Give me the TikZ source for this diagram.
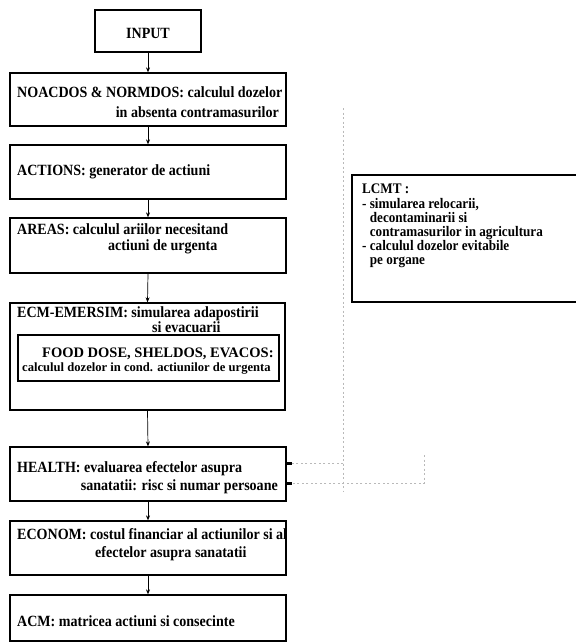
\documentclass[tikz,border=0pt]{standalone}
\usepackage{fontspec}
\setmainfont{Liberation Serif}
\newfontfamily\tallserif[FakeStretch=0.9]{Liberation Serif}
\usetikzlibrary{arrows.meta,calc}
\newcommand\modfont{\tallserif\fontsize{15.6}{17}\selectfont\bfseries}
\newcommand\lcmtfont{\tallserif\fontsize{14.6}{14.2}\selectfont\bfseries}
\newcommand\smallmodfont{\fontsize{12.6}{14}\selectfont\bfseries}
\tikzset{
  box/.style={draw, line width=1.3pt, inner sep=0pt},
  txt/.style={inner sep=0pt, font=\modfont},
  flow/.style={line width=0.7pt, -{Stealth[length=5pt,width=4pt]}},
  guide/.style={gray!55, line width=0.6pt, dash pattern=on 2pt off 2.5pt},
  feed/.style={gray!55, line width=0.6pt, dash pattern=on 2pt off 2.5pt,
    -{Rectangle[length=5pt,width=2.5pt,black]}},
}
\begin{document}
\begin{tikzpicture}[x=1pt,y=-1pt]
\clip (0,0) rectangle (576,643);
\fill[white] (0,0) rectangle (576,643);

% main chain of modules
\node[box, minimum width=106pt, minimum height=42pt] (input) at (148,31) {};
\node[txt, anchor=base] (inputt) at (148,38) {INPUT};

\node[box, minimum width=276pt, minimum height=53pt] (noac) at (148,99.5) {};
\node[txt, anchor=base west] (noac1) at (17,97) {NOACDOS \& NORMDOS: calculul dozelor};
\node[txt, anchor=base east] (noac2) at (279,117) {in absenta contramasurilor};

\node[box, minimum width=276pt, minimum height=54pt] (act) at (148,172) {};
\node[txt, anchor=base west] (act1) at (17,175) {ACTIONS: generator de actiuni};

\node[box, minimum width=276pt, minimum height=55pt] (areas) at (148,245.5) {};
\node[txt, anchor=base west] (areas1) at (17,234) {AREAS: calculul ariilor necesitand};
\node[txt, anchor=base west] (areas2) at (108,250) {actiuni de urgenta};

\node[box, minimum width=275pt, minimum height=107pt] (ecm) at (147.5,356.5) {};
\node[txt, anchor=base west] (ecm1) at (17,317) {ECM-EMERSIM: simularea adapostirii};
\node[txt, anchor=base west] (ecm2) at (152,332) {si evacuarii};
\node[box, minimum width=261pt, minimum height=46pt] (food) at (148.5,358) {};
\node[txt, font=\fontsize{14.5}{16}\selectfont\bfseries, anchor=base west] (food1) at (42,357) {FOOD DOSE, SHELDOS, EVACOS:};
\node[txt, font=\smallmodfont, anchor=base west] (food2) at (22,371) {calculul dozelor in cond. actiunilor de urgenta};

\node[box, minimum width=276pt, minimum height=54pt] (health) at (148,474) {};
\node[txt, anchor=base west] (health1) at (17,472) {HEALTH: evaluarea efectelor asupra};
\node[txt, anchor=base east] (health2) at (278,490) {sanatatii: risc si numar persoane};

\node[box, minimum width=276pt, minimum height=54pt] (econ) at (148,548) {};
\node[txt, anchor=base west] (econ1) at (17,539) {ECONOM: costul financiar al actiunilor si al};
\node[txt, anchor=base west] (econ2) at (95,557) {efectelor asupra sanatatii};

\node[box, minimum width=276pt, minimum height=46pt] (acm) at (148,618) {};
\node[txt, anchor=base west] (acm1) at (17,626) {ACM: matricea actiuni si consecinte};

% long-term countermeasures module
\node[box, minimum width=250pt, minimum height=127pt] (lcmt) at (477,238.5) {};
\node[txt, font=\lcmtfont, anchor=north west, align=left] (lcmtt) at (362,184)
  {LCMT :\\
   - simularea relocarii,\\
   \hphantom{-} decontaminarii si\\
   \hphantom{-} contramasurilor in agricultura\\
   - calculul dozelor evitabile\\
   \hphantom{-} pe organe};

% data flow between modules
\draw[flow] (input.south) -- (noac.north);
\draw[flow] (noac.south) -- (act.north);
\draw[flow] (act.south) -- (areas.north);
\draw[flow] (areas.south) -- (ecm.north);
\draw[flow] (ecm.south) -- (health.north);
\draw[flow] (health.south) -- (econ.north);
\draw[flow] (econ.south) -- (acm.north);

% faint feeds into HEALTH
\coordinate (vtop) at (343,108);
\coordinate (vbot) at (343,492);
\coordinate (rtop) at (424,455);
\draw[guide] (vtop) -- (vbot);
\draw[feed] (vtop |- 0,463) -- ($(health.east)+(0,-11)$);
\draw[feed] (rtop) |- ($(health.east)+(0,9)$);
\end{tikzpicture}
\end{document}
